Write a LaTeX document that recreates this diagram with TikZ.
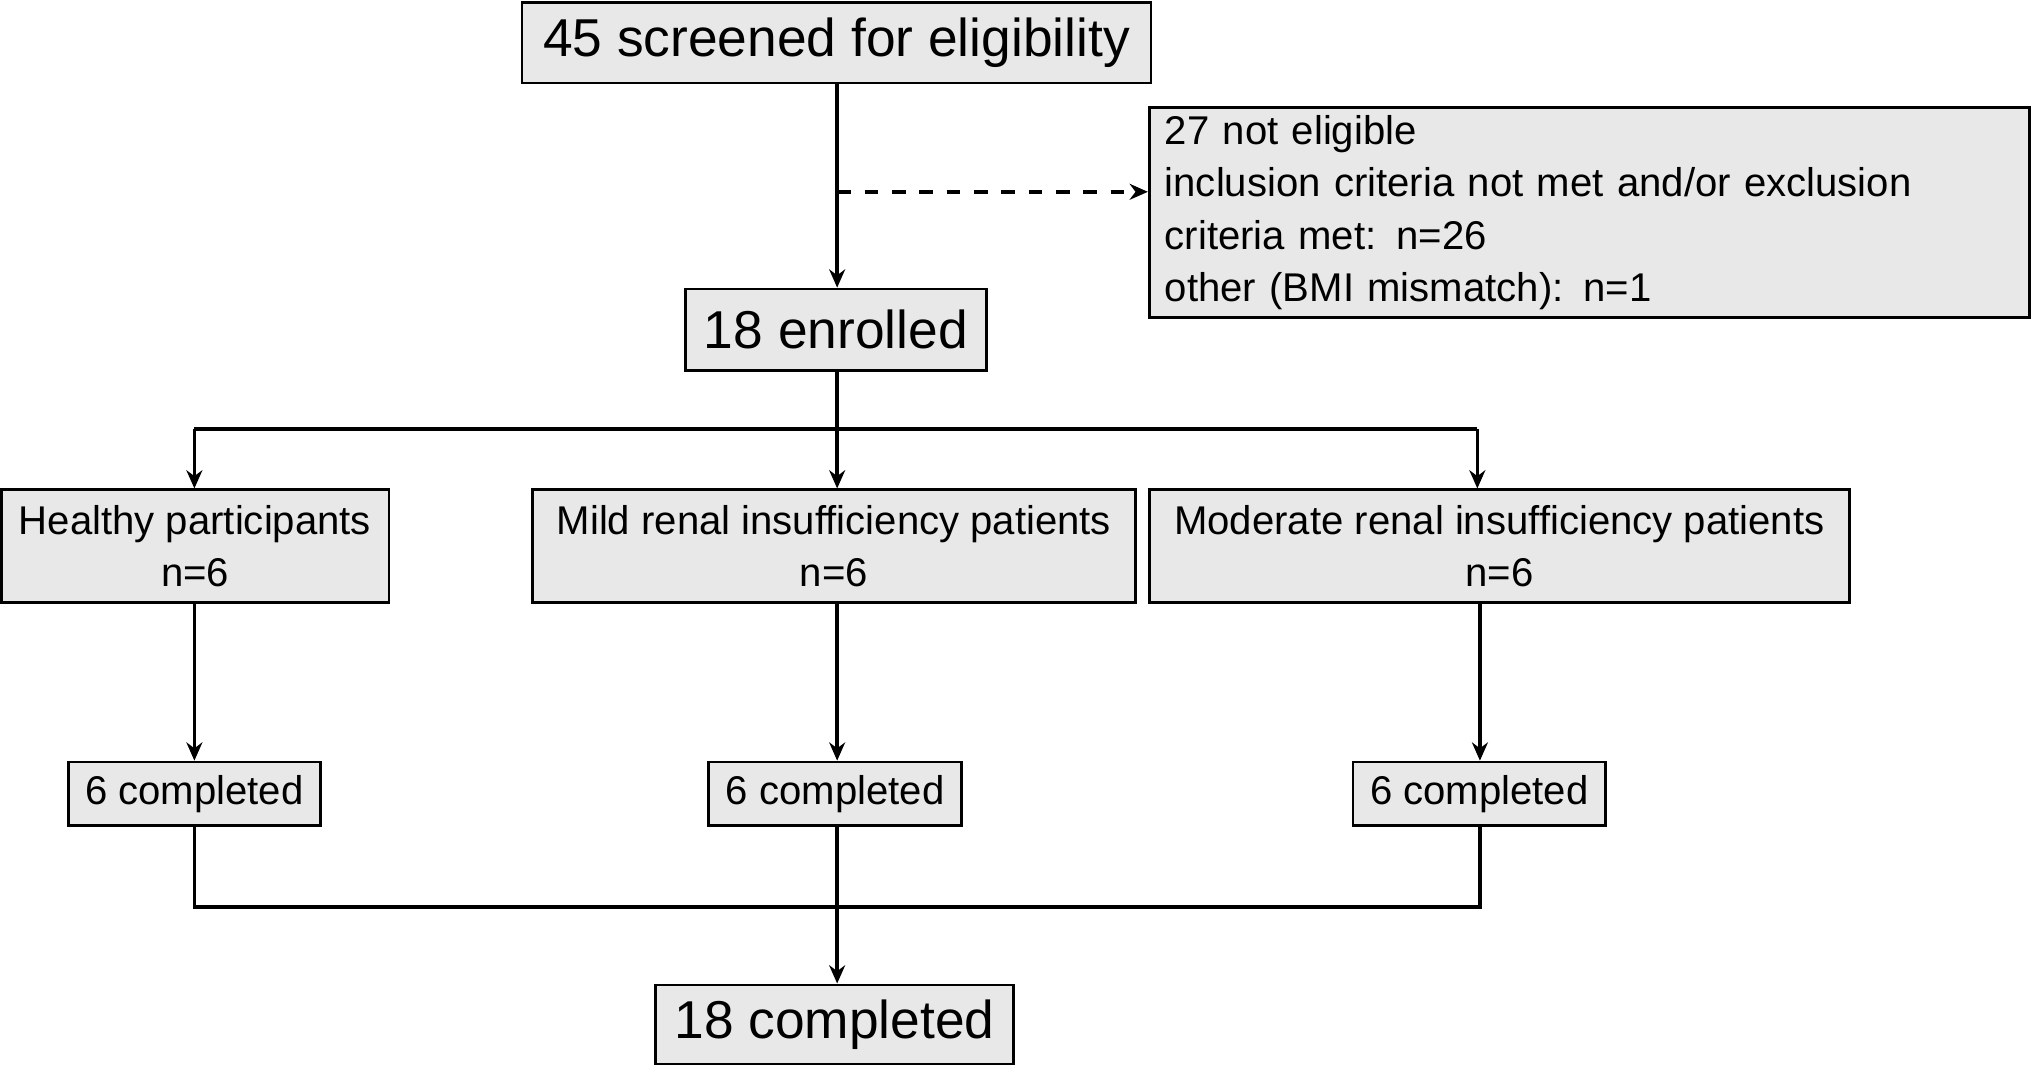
\documentclass[tikz,border=0pt]{standalone}
\usepackage{fontspec}
\setmainfont{Liberation Sans}
\usetikzlibrary{arrows.meta}
\begin{document}
\begin{tikzpicture}[x=0.01cm,y=-0.01cm,
 box/.style={draw,fill=black!9,line width=0.6pt,inner sep=0pt,align=center},
 big/.style={font=\fontsize{11.7}{13}\selectfont},
 sm/.style={font=\fontsize{8.8}{11.5}\selectfont},
 ln/.style={line width=0.8pt},
 ar/.style={ln,-{Stealth[length=4pt,width=3.5pt]}}]
\useasboundingbox (0,0) rectangle (1568,823);
\node[box,big,minimum width=4.85cm,minimum height=0.62cm] (top) at (645.5,33) {45 screened for eligibility};
\node[box,sm,minimum width=6.79cm,minimum height=1.62cm,align=left,text width=6.55cm,inner xsep=0.12cm] (ne) at (1226.5,164) {27 not eligible\\inclusion criteria not met and/or exclusion\\criteria met: n=26\\other (BMI mismatch): n=1};
\node[box,big,minimum width=2.32cm,minimum height=0.63cm] (en) at (645,254.5) {18 enrolled};
\node[box,sm,minimum width=2.99cm,minimum height=0.87cm] (h) at (150.5,421.5) {Healthy participants\\n=6};
\node[box,sm,minimum width=4.65cm,minimum height=0.87cm] (mi) at (643.5,421.5) {Mild renal insufficiency patients\\n=6};
\node[box,sm,minimum width=5.40cm,minimum height=0.87cm] (mo) at (1157,421.5) {Moderate renal insufficiency patients\\n=6};
\node[box,sm,minimum width=1.94cm,minimum height=0.49cm] (c1) at (150,612.5) {6 completed};
\node[box,sm,minimum width=1.95cm,minimum height=0.49cm] (c2) at (644.5,612.5) {6 completed};
\node[box,sm,minimum width=1.95cm,minimum height=0.49cm] (c3) at (1141.5,612.5) {6 completed};
\node[box,big,minimum width=2.76cm,minimum height=0.61cm] (fin) at (644,790.5) {18 completed};
\coordinate (d) at (646,148);
\coordinate (s) at (646,331);
\coordinate (sl) at (150,331);
\coordinate (sr) at (1140,331);
\coordinate (gr) at (1142,465);
\coordinate (jl) at (150,700);
\coordinate (jr) at (1142,700);
\coordinate (j) at (646,700);
\draw[ar] (top.south -| d) -- (en.north -| d);
\draw[ar,dashed] (d) -- (ne.west |- d);
\draw[ln] (en.south -| s) -- (s);
\draw[ln] (sl) -- (sr);
\draw[ar] (sl) -- (h.north -| sl);
\draw[ar] (s) -- (mi.north -| s);
\draw[ar] (sr) -- (mo.north -| sr);
\draw[ar] (h.south -| sl) -- (c1.north -| sl);
\draw[ar] (mi.south -| s) -- (c2.north -| s);
\draw[ar] (gr) -- (c3.north -| gr);
\draw[ln] (c1.south -| jl) -- (jl) -- (jr) -- (c3.south -| jr);
\draw[ln] (c2.south -| j) -- (j);
\draw[ar] (j) -- (fin.north -| j);
\end{tikzpicture}
\end{document}
